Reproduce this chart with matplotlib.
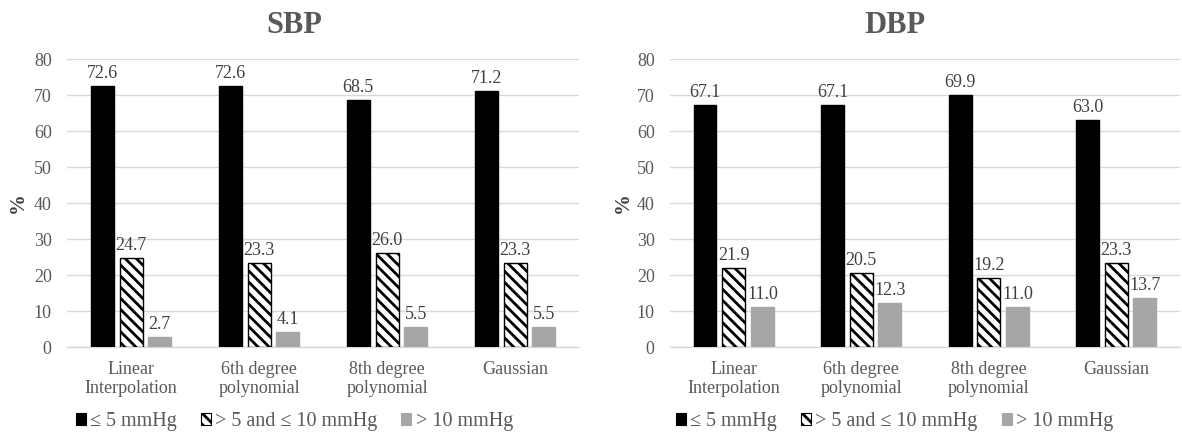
import matplotlib
matplotlib.use("Agg")
import matplotlib.pyplot as plt
from matplotlib.patches import Patch
import numpy as np

categories = ["Linear\nInterpolation", "6th degree\npolynomial",
              "8th degree\npolynomial", "Gaussian"]
series_names = ["\u2264 5 mmHg", "> 5 and \u2264 10 mmHg", "> 10 mmHg"]

sbp_le5 = [72.6, 72.6, 68.5, 71.2]
sbp_5to10 = [24.7, 23.3, 26.0, 23.3]
sbp_gt10 = [2.7, 4.1, 5.5, 5.5]

dbp_le5 = [67.1, 67.1, 69.9, 63.0]
dbp_5to10 = [21.9, 20.5, 19.2, 23.3]
dbp_gt10 = [11.0, 12.3, 11.0, 13.7]

yticks = [0, 10, 20, 30, 40, 50, 60, 70, 80]

plt.rcParams["font.family"] = ["Liberation Serif", "DejaVu Serif"]
plt.rcParams["hatch.linewidth"] = 2.0
plt.rcParams["hatch.color"] = "black"

TICK = "#595959"
LABEL = "#404040"
GRID = "#D9D9D9"
GRAY = "#A6A6A6"

fig = plt.figure(figsize=(11.82, 4.33), dpi=100)

styles = [
    dict(color="black", edgecolor="black"),
    dict(color="white", edgecolor="black", hatch="\\\\\\", linewidth=1.0),
    dict(color=GRAY, edgecolor=GRAY),
]


def draw_panel(rect, title, series, title_x):
    ax = fig.add_axes(rect)
    x = np.arange(len(categories))
    width = 0.18
    offsets = [-0.225, 0.0, 0.225]
    for vals, off, st in zip(series, offsets, styles):
        bars = ax.bar(x + off, vals, width, zorder=3, **st)
        for b, v in zip(bars, vals):
            ax.annotate(f"{v:.1f}", (b.get_x() + b.get_width() / 2, v),
                        xytext=(0, 3), textcoords="offset points",
                        ha="center", va="bottom", fontsize=13,
                        color=LABEL)
    ax.set_xlim(-0.5, len(categories) - 0.5)
    ax.set_ylim(0, 80)
    ax.set_yticks(yticks)
    ax.set_xticks(x)
    ax.set_xticklabels(categories, fontsize=13, color=TICK,
                       linespacing=1.2)
    ax.tick_params(axis="y", length=0, pad=11, labelsize=13,
                   labelcolor=TICK)
    ax.tick_params(axis="x", length=0, pad=10)
    ax.yaxis.grid(True, color=GRID, linewidth=1.0, zorder=0)
    ax.set_axisbelow(True)
    for s in ["top", "right", "left"]:
        ax.spines[s].set_visible(False)
    ax.spines["bottom"].set_color(GRID)
    ax.spines["bottom"].set_linewidth(1.0)

    fig.text(title_x, 0.94, title, ha="center", va="center",
             fontsize=22, fontweight="bold", color=TICK)

    handles = [Patch(facecolor=st["color"], edgecolor=st["edgecolor"],
                     hatch=st.get("hatch"), linewidth=0.8)
               for st in styles]
    fig.legend(handles, series_names, loc="center",
               bbox_to_anchor=(title_x, 0.026), ncol=3, frameon=False,
               fontsize=14.5, handlelength=0.5, handleheight=0.5,
               handletextpad=0.2, columnspacing=1.2, labelcolor=TICK)
    return ax


draw_panel([0.0567, 0.1986, 0.4332, 0.665], "SBP",
           [sbp_le5, sbp_5to10, sbp_gt10], 0.249)
draw_panel([0.5668, 0.1986, 0.4315, 0.665], "DBP",
           [dbp_le5, dbp_5to10, dbp_gt10], 0.757)

fig.text(0.015, 0.533, "%", rotation=90, ha="center", va="center",
         fontsize=15, fontweight="bold", color=LABEL)
fig.text(0.527, 0.533, "%", rotation=90, ha="center", va="center",
         fontsize=15, fontweight="bold", color=LABEL)

fig.savefig("out.png", dpi=100)
